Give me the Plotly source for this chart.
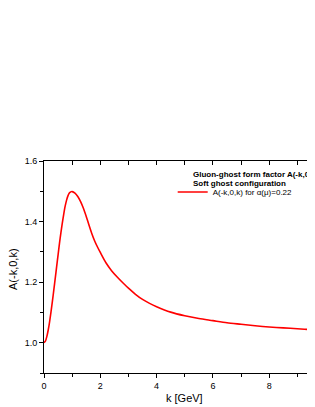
import plotly.graph_objects as go

# Data
k_vals = [0, 0.05, 0.1, 0.15, 0.2, 0.25, 0.3, 0.35, 0.4, 0.45, 0.5, 0.55, 0.6, 0.65, 0.7,
          0.75, 0.8, 0.85, 0.9, 0.95, 1.0, 1.1, 1.2, 1.3, 1.4, 1.5, 1.6, 1.7, 1.8, 1.9, 2.0,
          2.2, 2.4, 2.6, 2.8, 3.0, 3.25, 3.5, 3.75, 4.0, 4.5, 5.0, 5.5, 6.0, 6.5, 7.0, 7.5,
          8.0, 8.5, 9.0, 9.5, 10.0]
A_vals = [1.000, 1.005, 1.020, 1.042, 1.070, 1.103, 1.138, 1.175, 1.213, 1.252, 1.290, 1.328,
          1.363, 1.395, 1.424, 1.450, 1.470, 1.485, 1.494, 1.498, 1.499, 1.494, 1.483, 1.466,
          1.444, 1.417, 1.388, 1.360, 1.336, 1.316, 1.298, 1.264, 1.238, 1.217, 1.198, 1.180,
          1.160, 1.143, 1.130, 1.119, 1.101, 1.089, 1.080, 1.073, 1.066, 1.061, 1.056, 1.052,
          1.049, 1.046, 1.043, 1.041]
x_ticks = [0, 2, 4, 6, 8]
y_ticks = [1.0, 1.2, 1.4, 1.6]
series_name = "A(-k,0,k) for α(μ)=0.22"
legend_lines = ["Gluon-ghost form factor A(-k,0,k)", "Soft ghost configuration"]
x_title = "k [GeV]"
y_title = "A(-k,0,k)"

FONT = "Liberation Sans, Arial, sans-serif"
OFF = 8  # default page body margin
W, H = 315 - 2 * OFF, 407 - OFF
L, T, B = 44 - OFF, 161 - OFF, 34
plot_w = W - L
plot_h = H - T - B
px_per_k = 28.15
x_max = plot_w / px_per_k


def py(page_y):
    """page pixel y -> paper fraction"""
    return (H - B - (page_y - OFF)) / plot_h


def px(page_x):
    return (page_x - OFF - L) / plot_w


fig = go.Figure()
fig.add_trace(go.Scatter(
    x=k_vals, y=A_vals, mode="lines", name=series_name,
    line=dict(color="#ff0000", width=1.6, shape="spline", smoothing=0.8),
    showlegend=True,
))

fig.update_layout(
    width=W, height=H,
    margin=dict(l=L, r=0, t=T, b=B, pad=0),
    paper_bgcolor="white", plot_bgcolor="white",
    font=dict(family=FONT, size=9, color="black"),
    showlegend=True,
    legend=dict(x=px(172.7), y=py(177.5), xanchor="left", yanchor="top",
                bgcolor="rgba(0,0,0,0)", font=dict(size=8, family=FONT),
                borderwidth=0, tracegroupgap=0),
    xaxis=dict(range=[0, x_max], tickvals=x_ticks, ticks="outside", ticklen=4, tickwidth=1,
               tickcolor="black", showline=True, linecolor="black", linewidth=1,
               showgrid=False, zeroline=False, tickfont=dict(size=9),
               minor=dict(dtick=1, tick0=0, ticks="outside", ticklen=3, tickcolor="black",
                          showgrid=False)),
    xaxis2=dict(overlaying="x", side="top", matches="x", range=[0, x_max], dtick=1, tick0=0,
                ticks="inside", ticklen=4, tickcolor="black", showticklabels=False,
                showline=True, linecolor="black", linewidth=1, showgrid=False, zeroline=False),
    yaxis=dict(range=[0.9, 1.6], tickvals=y_ticks, tickformat=".1f", ticks="outside", ticklen=4,
               tickcolor="black", showline=True, linecolor="black", linewidth=1,
               showgrid=False, zeroline=False, tickfont=dict(size=9),
               minor=dict(dtick=0.1, tick0=0.9, ticks="outside", ticklen=3, tickcolor="black",
                          showgrid=False)),
)

# invisible helper so the top axis is drawn
fig.add_trace(go.Scatter(x=[0], y=[None], xaxis="x2", mode="lines", showlegend=False,
                         hoverinfo="skip"))

fig.add_annotation(text=x_title, xref="x", x=5, yref="paper", y=py(398),
                   xanchor="center", yanchor="middle", showarrow=False,
                   font=dict(size=11, family=FONT))
fig.add_annotation(text=y_title, xref="paper", x=px(13), yref="paper", y=py(269),
                   textangle=-90, xanchor="center", yanchor="middle", showarrow=False,
                   font=dict(size=11, family=FONT))
for i, line in enumerate(legend_lines):
    fig.add_annotation(text="<b>%s</b>" % line, xref="paper", x=px(191.0),
                       yref="paper", y=py(174 + 9.7 * i),
                       xanchor="left", yanchor="middle", showarrow=False,
                       font=dict(size=8, family=FONT))

fig.write_html("out.html")
